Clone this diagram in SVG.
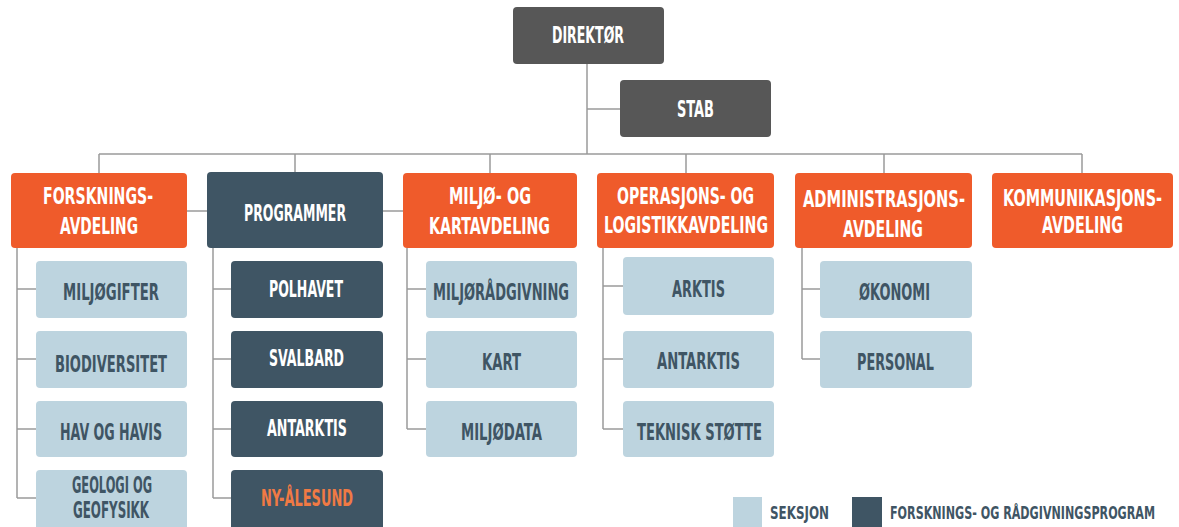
<svg xmlns="http://www.w3.org/2000/svg" width="1179" height="527" viewBox="0 0 1179 527">
<style>
.t{font-family:"DejaVu Sans Condensed","Roboto",sans-serif;font-weight:bold;font-size:23px}
.w{fill:#ffffff}
.s{fill:#3f5564}
.o{fill:#f07a44}
.lg{font-size:18px}
.ln{stroke:#9a9a9a;stroke-width:1.5;fill:none}
.gray{fill:#575757}
.org{fill:#ef5b2b}
.drk{fill:#3f5564}
.lb{fill:#bdd4df}
</style>
<rect width="1179" height="527" fill="#ffffff"/>
<g id="connectors" class="ln">
<path d="M587 64V154M587 109H620M99 154H1082M99 154V173M295 154V173M490 154V173M686 154V173M884 154V173M1082 154V173"/>
<path d="M187 211H207M383 211H403"/>
<path d="M17 248V498M17 289H36M17 359H36M17 429H36M17 498H36"/>
<path d="M213 248V498M213 289H231M213 359H231M213 429H231M213 498H231"/>
<path d="M407 248V429M407 289H426M407 359H426M407 429H426"/>
<path d="M603 248V429M603 286H623M603 359H623M603 429H623"/>
<path d="M802 248V359M802 289H820M802 359H820"/>
</g>
<g id="direktor"><rect class="gray" x="513" y="7" width="151" height="57" rx="4"/><text class="t w" transform="translate(552,43) scale(0.72,1)" textLength="100" lengthAdjust="spacingAndGlyphs">DIREKTØR</text></g>
<g id="stab"><rect class="gray" x="620" y="80" width="151" height="57" rx="4"/><text class="t w" transform="translate(677,117) scale(0.72,1)" textLength="51.4" lengthAdjust="spacingAndGlyphs">STAB</text></g>
<g id="forskning"><rect class="org" x="11" y="173" width="176" height="75" rx="4"/><text class="t w" transform="translate(43,204) scale(0.72,1)" textLength="152.8" lengthAdjust="spacingAndGlyphs">FORSKNINGS-</text><text class="t w" transform="translate(60,234) scale(0.72,1)" textLength="108.3" lengthAdjust="spacingAndGlyphs">AVDELING</text></g>
<g id="programmer"><rect class="drk" x="207" y="172" width="176" height="76" rx="4"/><text class="t w" transform="translate(244,221) scale(0.72,1)" textLength="141.7" lengthAdjust="spacingAndGlyphs">PROGRAMMER</text></g>
<g id="miljo"><rect class="org" x="403" y="173" width="174" height="75" rx="4"/><text class="t w" transform="translate(449,204) scale(0.72,1)" textLength="113.9" lengthAdjust="spacingAndGlyphs">MILJØ- OG</text><text class="t w" transform="translate(429,234) scale(0.72,1)" textLength="168.1" lengthAdjust="spacingAndGlyphs">KARTAVDELING</text></g>
<g id="operasjon"><rect class="org" x="597" y="173" width="177" height="75" rx="4"/><text class="t w" transform="translate(617,204) scale(0.72,1)" textLength="190.3" lengthAdjust="spacingAndGlyphs">OPERASJONS- OG</text><text class="t w" transform="translate(604,233) scale(0.72,1)" textLength="227.8" lengthAdjust="spacingAndGlyphs">LOGISTIKKAVDELING</text></g>
<g id="administrasjon"><rect class="org" x="795" y="173" width="177" height="75" rx="4"/><text class="t w" transform="translate(803,207) scale(0.72,1)" textLength="225" lengthAdjust="spacingAndGlyphs">ADMINISTRASJONS-</text><text class="t w" transform="translate(843,237) scale(0.72,1)" textLength="111.1" lengthAdjust="spacingAndGlyphs">AVDELING</text></g>
<g id="kommunikasjon"><rect class="org" x="992" y="173" width="181" height="75" rx="4"/><text class="t w" transform="translate(1003,206) scale(0.72,1)" textLength="220.8" lengthAdjust="spacingAndGlyphs">KOMMUNIKASJONS-</text><text class="t w" transform="translate(1042,233) scale(0.72,1)" textLength="112.5" lengthAdjust="spacingAndGlyphs">AVDELING</text></g>
<g id="miljogifter"><rect class="lb" x="36" y="261" width="151" height="57" rx="4"/><text class="t s" transform="translate(63,300) scale(0.72,1)" textLength="133.3" lengthAdjust="spacingAndGlyphs">MILJØGIFTER</text></g>
<g id="biodiversitet"><rect class="lb" x="36" y="331" width="151" height="57" rx="4"/><text class="t s" transform="translate(55,372) scale(0.72,1)" textLength="155.6" lengthAdjust="spacingAndGlyphs">BIODIVERSITET</text></g>
<g id="havoghavis"><rect class="lb" x="36" y="401" width="151" height="56" rx="4"/><text class="t s" transform="translate(60,440) scale(0.72,1)" textLength="141.7" lengthAdjust="spacingAndGlyphs">HAV OG HAVIS</text></g>
<g id="geologi"><rect class="lb" x="36" y="470" width="151" height="60" rx="4"/><text class="t s" transform="translate(72,493) scale(0.72,1)" textLength="111.1" lengthAdjust="spacingAndGlyphs">GEOLOGI OG</text><text class="t s" transform="translate(73,518) scale(0.72,1)" textLength="105.6" lengthAdjust="spacingAndGlyphs">GEOFYSIKK</text></g>
<g id="polhavet"><rect class="drk" x="231" y="261" width="152" height="57" rx="4"/><text class="t w" transform="translate(269,297) scale(0.72,1)" textLength="102.8" lengthAdjust="spacingAndGlyphs">POLHAVET</text></g>
<g id="svalbard"><rect class="drk" x="231" y="331" width="152" height="57" rx="4"/><text class="t w" transform="translate(269,366) scale(0.72,1)" textLength="104.2" lengthAdjust="spacingAndGlyphs">SVALBARD</text></g>
<g id="antarktis-prog"><rect class="drk" x="231" y="401" width="152" height="56" rx="4"/><text class="t w" transform="translate(267,436) scale(0.72,1)" textLength="111.1" lengthAdjust="spacingAndGlyphs">ANTARKTIS</text></g>
<g id="nyalesund"><rect class="drk" x="231" y="470" width="152" height="60" rx="4"/><text class="t o" transform="translate(261,506) scale(0.72,1)" textLength="127.8" lengthAdjust="spacingAndGlyphs">NY-ÅLESUND</text></g>
<g id="miljoradgivning"><rect class="lb" x="426" y="261" width="151" height="57" rx="4"/><text class="t s" transform="translate(433,300) scale(0.72,1)" textLength="188.9" lengthAdjust="spacingAndGlyphs">MILJØRÅDGIVNING</text></g>
<g id="kart"><rect class="lb" x="426" y="331" width="151" height="57" rx="4"/><text class="t s" transform="translate(482,370) scale(0.72,1)" textLength="54.2" lengthAdjust="spacingAndGlyphs">KART</text></g>
<g id="miljodata"><rect class="lb" x="426" y="401" width="151" height="56" rx="4"/><text class="t s" transform="translate(461,440) scale(0.72,1)" textLength="112.5" lengthAdjust="spacingAndGlyphs">MILJØDATA</text></g>
<g id="arktis"><rect class="lb" x="623" y="257" width="151" height="58" rx="4"/><text class="t s" transform="translate(672,297) scale(0.72,1)" textLength="73.6" lengthAdjust="spacingAndGlyphs">ARKTIS</text></g>
<g id="antarktis-op"><rect class="lb" x="623" y="331" width="151" height="57" rx="4"/><text class="t s" transform="translate(657,369) scale(0.72,1)" textLength="115.3" lengthAdjust="spacingAndGlyphs">ANTARKTIS</text></g>
<g id="tekniskstotte"><rect class="lb" x="623" y="401" width="151" height="56" rx="4"/><text class="t s" transform="translate(637,440) scale(0.72,1)" textLength="173.6" lengthAdjust="spacingAndGlyphs">TEKNISK STØTTE</text></g>
<g id="okonomi"><rect class="lb" x="820" y="261" width="152" height="57" rx="4"/><text class="t s" transform="translate(859,300) scale(0.72,1)" textLength="98.6" lengthAdjust="spacingAndGlyphs">ØKONOMI</text></g>
<g id="personal"><rect class="lb" x="820" y="331" width="152" height="57" rx="4"/><text class="t s" transform="translate(857,370) scale(0.72,1)" textLength="106.9" lengthAdjust="spacingAndGlyphs">PERSONAL</text></g>
<g id="legend">
<rect class="lb" x="733" y="497" width="29" height="30"/>
<text class="t s lg" transform="translate(770,519) scale(0.72,1)" textLength="81.9" lengthAdjust="spacingAndGlyphs">SEKSJON</text>
<rect class="drk" x="852" y="497" width="30" height="30"/>
<text class="t s lg" transform="translate(890,519) scale(0.72,1)" textLength="368.1" lengthAdjust="spacingAndGlyphs">FORSKNINGS- OG RÅDGIVNINGSPROGRAM</text>
</g>
</svg>
